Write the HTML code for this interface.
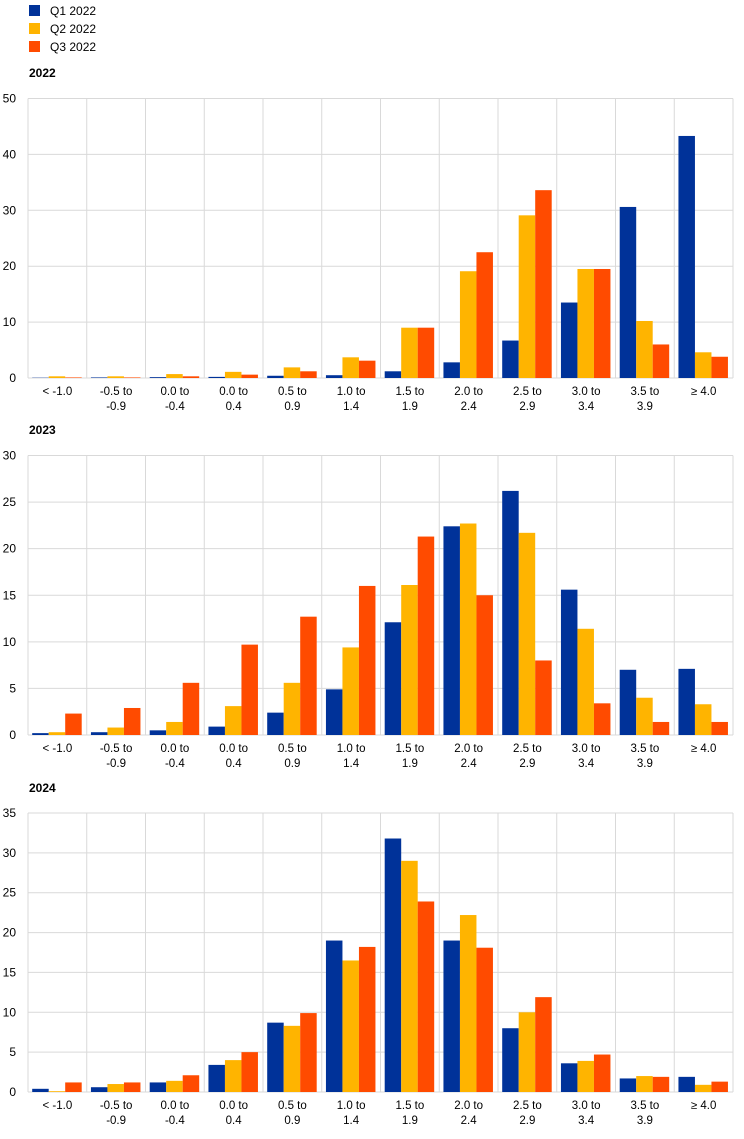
<!DOCTYPE html>
<html><head><meta charset="utf-8"><style>
body{margin:0;background:#fff;font-family:"Liberation Sans",sans-serif;}
svg text{font-family:"Liberation Sans",sans-serif;}
</style></head><body>
<svg id="c" width="744" height="1134" xmlns="http://www.w3.org/2000/svg"></svg>
<script>
const categories=[["< -1.0",""],["-0.5  to","-0.9"],["0.0  to","-0.4"],["0.0  to","0.4"],["0.5  to","0.9"],["1.0  to","1.4"],["1.5  to","1.9"],["2.0  to","2.4"],["2.5  to","2.9"],["3.0  to","3.4"],["3.5  to","3.9"],["≥ 4.0",""]];
const seriesNames=["Q1 2022","Q2 2022","Q3 2022"];
const p2022q1=[0.05,0.1,0.15,0.2,0.4,0.5,1.2,2.8,6.7,13.5,30.6,43.3];
const p2022q2=[0.3,0.3,0.7,1.1,1.9,3.7,9.0,19.1,29.1,19.5,10.2,4.6];
const p2022q3=[0.1,0.1,0.3,0.6,1.2,3.1,9.0,22.5,33.6,19.5,6.0,3.8];
const p2023q1=[0.2,0.3,0.5,0.9,2.4,4.9,12.1,22.4,26.2,15.6,7.0,7.1];
const p2023q2=[0.3,0.8,1.4,3.1,5.6,9.4,16.1,22.7,21.7,11.4,4.0,3.3];
const p2023q3=[2.3,2.9,5.6,9.7,12.7,16.0,21.3,15.0,8.0,3.4,1.4,1.4];
const p2024q1=[0.4,0.6,1.2,3.4,8.7,19.0,31.8,19.0,8.0,3.6,1.7,1.9];
const p2024q2=[0.1,1.0,1.4,4.0,8.3,16.5,29.0,22.2,10.0,3.9,2.0,0.9];
const p2024q3=[1.2,1.2,2.1,5.0,9.9,18.2,23.9,18.1,11.9,4.7,1.9,1.3];
const ticks2022=[0,10,20,30,40,50];
const ticks2023=[0,5,10,15,20,25,30];
const ticks2024=[0,5,10,15,20,25,30,35];
const colors=["#003299","#ffb400","#ff4b00"];
const NS="http://www.w3.org/2000/svg";
const svg=document.getElementById('c');
function mk(tag,attrs,parent){const e=document.createElementNS(NS,tag);for(const k in attrs)e.setAttribute(k,attrs[k]);(parent||svg).appendChild(e);return e;}
// legend
seriesNames.forEach((n,i)=>{
  const g=mk('g',{});
  
  
  mk('rect',{x:29,y:5+i*18,width:11,height:11,fill:colors[i]},g);
  const t=mk('text',{x:50,y:15+i*18,'font-size':12,fill:'#000'},g);t.textContent=n;
});
const X0=28,X1=733,colW=(X1-X0)/12,off=4.2,bw=16.5;
function panel(title,titleY,top,bottom,ticks,series){
  const g=mk('g',{});
  
  
  const tt=mk('text',{x:29,y:titleY,'font-size':12,'font-weight':'bold'},g);tt.textContent=title;
  const max=ticks[ticks.length-1];
  const y=v=>bottom-(v/max)*(bottom-top);
  ticks.forEach(t=>{
    mk('line',{x1:X0,x2:X1,y1:y(t),y2:y(t),stroke:'#d9d9d9','stroke-width':1},g);
    const l=mk('text',{x:16,y:y(t)+4,'font-size':12,'text-anchor':'end'},g);l.textContent=t;
    
    
  });
  for(let i=0;i<=12;i++){mk('line',{x1:X0+i*colW,x2:X0+i*colW,y1:top,y2:bottom,stroke:'#d9d9d9','stroke-width':1},g);}
  categories.forEach((c,i)=>{
    series.forEach((s,j)=>{
      const r=mk('rect',{x:X0+i*colW+off+j*bw,y:y(s[i]),width:bw,height:bottom-y(s[i]),fill:colors[j]},g);
      
      
    });
    const cx=X0+(i+0.5)*colW;
    const t1=mk('text',{x:cx,y:bottom+17,'font-size':11.5,'text-anchor':'middle','xml:space':'preserve'},g);t1.textContent=c[0];
    
    
    if(c[1]){const t2=mk('text',{x:cx,y:bottom+32,'font-size':11.5,'text-anchor':'middle'},g);t2.textContent=c[1];}
  });
}
panel('2022',77,98.5,378,ticks2022,[p2022q1,p2022q2,p2022q3]);
panel('2023',434,455.5,735,ticks2023,[p2023q1,p2023q2,p2023q3]);
panel('2024',792,813,1092,ticks2024,[p2024q1,p2024q2,p2024q3]);
</script>
</body></html>
